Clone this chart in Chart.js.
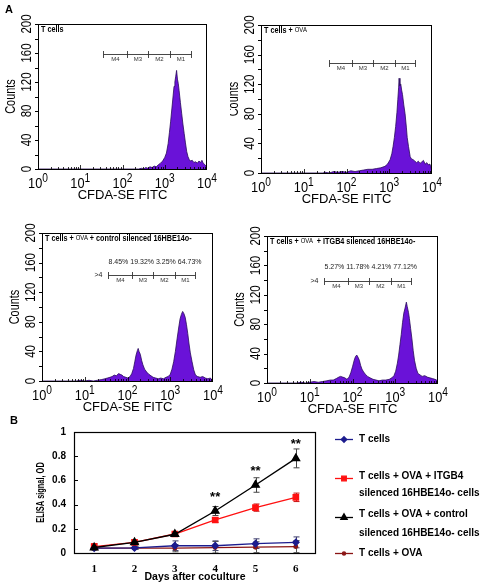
<!DOCTYPE html>
<html>
<head>
<meta charset="utf-8">
<script src="https://cdn.jsdelivr.net/npm/chart.js@4.4.0/dist/chart.umd.min.js"></script>
<style>
html, body { margin: 0; padding: 0; background: #fff; }
#page { position: relative; width: 484px; height: 586px; overflow: hidden; }
canvas { position: absolute; }
.tag { position: absolute; font: bold 11px 'Liberation Sans', Arial, sans-serif; line-height: 1; }
</style>
</head>
<body>
<div id="page">
  <canvas id="hTc" width="230" height="200" style="left:0;top:0"></canvas>
  <canvas id="hOva" width="254" height="210" style="left:230px;top:0"></canvas>
  <canvas id="hCtrl" width="230" height="215" style="left:0;top:200px"></canvas>
  <canvas id="hItg" width="254" height="215" style="left:230px;top:200px"></canvas>
  <canvas id="elisa" width="484" height="171" style="left:0;top:415px"></canvas>
  <div class="tag" style="left:5px;top:4px">A</div>
  <div class="tag" style="left:10px;top:415px">B</div>
</div>
<script>
var SANS = "'Liberation Sans', Arial, sans-serif";
var SERIF = "'Liberation Serif', 'Times New Roman', serif";

// ---- panel A : CFDA-SE histograms (x = log10 of FITC channel) ----
var countTicks = [0, 40, 80, 120, 160, 200];
var decadeExps = ['0', '1', '2', '3', '4'];
var gateNames = ['M4', 'M3', 'M2', 'M1'];

var tcLog = [0, 2.38, 2.45, 2.50, 2.55, 2.60, 2.65, 2.70, 2.75, 2.80, 2.85, 2.90, 2.95, 3.00, 3.04, 3.08, 3.11, 3.14, 3.17, 3.20, 3.22, 3.24, 3.26, 3.28, 3.30, 3.32, 3.34, 3.37, 3.40, 3.43, 3.46, 3.49, 3.52, 3.55, 3.58, 3.61, 3.65, 3.69, 3.73, 3.77, 3.81, 3.85, 3.88, 3.91, 3.95, 3.98, 4.0];
var tcCount = [0, 0, 1, 0, 2, 1, 3, 2, 4, 3, 6, 8, 11, 16, 22, 35, 50, 66, 84, 102, 114, 120, 128, 136, 124, 118, 108, 92, 77, 62, 49, 36, 24, 17, 13, 11, 12, 9, 10, 8, 11, 9, 12, 8, 6, 4, 0];

var ovaLog = [0, 1.45, 1.50, 1.60, 1.70, 1.80, 1.90, 2.00, 2.10, 2.20, 2.30, 2.40, 2.50, 2.60, 2.70, 2.80, 2.90, 2.96, 3.02, 3.06, 3.09, 3.12, 3.15, 3.18, 3.20, 3.22, 3.23, 3.25, 3.27, 3.29, 3.31, 3.34, 3.37, 3.40, 3.42, 3.45, 3.49, 3.52, 3.56, 3.60, 3.64, 3.68, 3.72, 3.76, 3.80, 3.84, 3.88, 3.91, 3.95, 3.98, 4.0];
var ovaCount = [0, 0, 1, 0, 2, 1, 2, 1, 3, 2, 3, 4, 5, 5, 6, 7, 9, 12, 18, 26, 36, 48, 63, 82, 99, 116, 128, 118, 120, 112, 106, 92, 80, 62, 48, 36, 22, 19, 18, 16, 14, 16, 13, 15, 17, 12, 14, 11, 12, 7, 0];

var ctrlLog = [0, 0.80, 0.90, 1.00, 1.10, 1.20, 1.30, 1.40, 1.47, 1.53, 1.59, 1.64, 1.69, 1.74, 1.79, 1.83, 1.87, 1.91, 1.96, 2.01, 2.06, 2.10, 2.14, 2.17, 2.20, 2.23, 2.25, 2.27, 2.30, 2.33, 2.36, 2.40, 2.45, 2.50, 2.55, 2.60, 2.66, 2.72, 2.78, 2.84, 2.90, 2.95, 3.00, 3.04, 3.08, 3.12, 3.16, 3.20, 3.23, 3.26, 3.29, 3.32, 3.35, 3.38, 3.41, 3.44, 3.47, 3.51, 3.55, 3.59, 3.64, 3.70, 3.76, 3.82, 3.88, 3.94, 4.0];
var ctrlCount = [0, 0, 1, 0, 1, 0, 1, 2, 3, 4, 5, 6, 8, 7, 10, 9, 8, 6, 5, 4, 6, 10, 17, 26, 35, 41, 44, 40, 36, 28, 22, 16, 12, 9, 7, 5, 4, 3, 4, 3, 5, 6, 9, 16, 26, 40, 57, 73, 84, 90, 94, 91, 86, 76, 64, 50, 38, 26, 15, 8, 6, 5, 6, 4, 3, 4, 0];

var itgLog = [0, 0.70, 0.80, 0.90, 1.00, 1.10, 1.20, 1.30, 1.40, 1.48, 1.55, 1.62, 1.68, 1.72, 1.77, 1.82, 1.87, 1.92, 1.96, 2.00, 2.04, 2.07, 2.10, 2.13, 2.16, 2.19, 2.22, 2.26, 2.30, 2.35, 2.41, 2.48, 2.55, 2.62, 2.70, 2.78, 2.86, 2.92, 2.97, 3.01, 3.05, 3.08, 3.11, 3.14, 3.17, 3.20, 3.23, 3.26, 3.28, 3.31, 3.33, 3.36, 3.39, 3.42, 3.45, 3.49, 3.53, 3.58, 3.63, 3.69, 3.75, 3.81, 3.87, 3.93, 3.97, 4.0];
var itgCount = [0, 0, 1, 0, 1, 2, 1, 2, 3, 4, 4, 6, 8, 9, 8, 7, 5, 8, 14, 22, 31, 36, 38, 35, 31, 24, 19, 15, 12, 9, 7, 5, 4, 3, 4, 4, 5, 7, 10, 16, 27, 38, 52, 66, 82, 95, 102, 110, 104, 96, 88, 74, 60, 44, 31, 20, 13, 11, 9, 10, 8, 7, 6, 5, 4, 0];

var ctrlPercents = ['8.45%', '19.32%', '3.25%', '64.73%'];
var itgPercents = ['5.27%', '11.78%', '4.21%', '77.12%'];

// ---- panel B : ELISA ----
var days = ['1', '2', '3', '4', '5', '6'];
var tcellsOD = [0.040, 0.042, 0.060, 0.060, 0.077, 0.088];
var tcellsErr = [0.010, 0.010, 0.040, 0.040, 0.040, 0.045];
var itgb4OD = [0.052, 0.088, 0.157, 0.273, 0.375, 0.460];
var itgb4Err = [0.025, 0.010, 0.012, 0.020, 0.030, 0.035];
var controlOD = [0.045, 0.088, 0.155, 0.347, 0.562, 0.782];
var controlErr = [0.020, 0.010, 0.010, 0.037, 0.060, 0.078];
var ovaOD = [0.040, 0.040, 0.040, 0.045, 0.048, 0.053];
var ovaErr = [0.010, 0.010, 0.030, 0.050, 0.045, 0.050];
var starLevels = [null, null, null, 0.48, 0.70, 0.925];
var seriesNames = [
    ['T cells'],
    ['T cells + OVA + ITGB4', 'silenced 16HBE14o- cells'],
    ['T cells + OVA + control', 'silenced 16HBE14o- cells'],
    ['T cells + OVA']
];

function say(ctx, text, x, y, font, o) {
    o = o || {};
    ctx.save();
    ctx.translate(x, y);
    if (o.rot) ctx.rotate(o.rot);
    ctx.scale(o.sx || 1, 1);
    ctx.font = font;
    ctx.fillStyle = o.color || '#000';
    ctx.textAlign = o.align || 'center';
    ctx.textBaseline = o.base || 'middle';
    ctx.fillText(text, 0, 0);
    ctx.restore();
}

function seg(ctx, x1, y1, x2, y2) {
    ctx.beginPath();
    ctx.moveTo(x1, y1);
    ctx.lineTo(x2, y2);
    ctx.stroke();
}

function drawDecade(ctx, x, y, exp) {
    var sq = 0.85;
    ctx.save();
    ctx.font = '15px ' + SANS;
    var w1 = ctx.measureText('10').width;
    ctx.font = '12px ' + SANS;
    var w2 = ctx.measureText(exp).width;
    ctx.translate(x - (w1 + w2) * sq / 2, y);
    ctx.scale(sq, 1);
    ctx.fillStyle = '#000';
    ctx.textAlign = 'left';
    ctx.textBaseline = 'alphabetic';
    ctx.font = '15px ' + SANS;
    ctx.fillText('10', 0, 0);
    ctx.font = '12px ' + SANS;
    ctx.fillText(exp, w1, -6);
    ctx.restore();
}

function drawHead(ctx, parts, x, y) {
    ctx.save();
    ctx.translate(x, y);
    ctx.scale(0.85, 1);
    ctx.fillStyle = '#000';
    ctx.textAlign = 'left';
    ctx.textBaseline = 'middle';
    var cx = 0;
    parts.forEach(function (p) {
        ctx.font = p[1] ? 'bold 8.5px ' + SANS : '7px ' + SANS;
        ctx.fillText(p[0], cx, 0);
        cx += ctx.measureText(p[0]).width;
    });
    ctx.restore();
}

var panels = [
    { id: 'hTc', pad: { left: 38, right: 23, top: 24, bottom: 31 }, xs: tcLog, ys: tcCount,
      head: [['T cells', 1]],
      gate: [1.55, 2.10, 2.61, 3.12, 3.61], gateAt: 158 },
    { id: 'hOva', pad: { left: 31, right: 52, top: 25, bottom: 37 }, xs: ovaLog, ys: ovaCount,
      head: [['T cells + ', 1], ['OVA', 0]],
      gate: [1.59, 2.12, 2.62, 3.13, 3.61], gateAt: 149 },
    { id: 'hCtrl', pad: { left: 42, right: 17, top: 33, bottom: 34 }, xs: ctrlLog, ys: ctrlCount,
      head: [['T cells + ', 1], ['OVA', 0], [' + control silenced 16HBE14o-', 1]],
      gate: [1.54, 2.10, 2.60, 3.11, 3.58], gateAt: 143, pct: ctrlPercents, pctAt: 161 },
    { id: 'hItg', pad: { left: 37, right: 46, top: 36, bottom: 32 }, xs: itgLog, ys: itgCount,
      head: [['T cells + ', 1], ['OVA', 0], ['  + ITGB4 silenced 16HBE14o-', 1]],
      gate: [1.34, 1.90, 2.39, 2.91, 3.38], gateAt: 139, pct: itgPercents, pctAt: 158 }
];

function makeHistogram(p) {
    var points = p.xs.map(function (x, i) { return { x: x, y: p.ys[i] }; });
    var frame = {
        id: 'facsFrame',
        afterDraw: function (chart) {
            var ctx = chart.ctx, a = chart.chartArea;
            var sx = chart.scales.x, sy = chart.scales.y;
            ctx.save();
            ctx.strokeStyle = '#000';
            ctx.lineWidth = 1;
            ctx.strokeRect(Math.round(a.left) + 0.5, Math.round(a.top) + 0.5,
                Math.round(a.right - a.left) - 1, Math.round(a.bottom - a.top));
            // count ticks
            for (var v = 0; v <= 200; v += 20) {
                var ty = Math.round(sy.getPixelForValue(v)) + 0.5;
                seg(ctx, a.left - 3, ty, a.left, ty);
            }
            // log ticks
            ctx.lineWidth = 0.8;
            for (var d = 0; d < 4; d++) {
                for (var m = 1; m < 10; m++) {
                    var tx = Math.round(sx.getPixelForValue(d + Math.log10(m))) + 0.5;
                    seg(ctx, tx, a.bottom, tx, a.bottom - (m === 1 ? 4 : 2));
                }
            }
            countTicks.forEach(function (c) {
                say(ctx, String(c), a.left - 11, sy.getPixelForValue(c), '15px ' + SANS,
                    { rot: -Math.PI / 2, sx: 0.76 });
            });
            decadeExps.forEach(function (e, i) {
                drawDecade(ctx, sx.getPixelForValue(i), a.bottom + 19, e);
            });
            say(ctx, 'CFDA-SE FITC', (a.left + a.right) / 2, a.bottom + 26.5, '13px ' + SANS);
            say(ctx, 'Counts', a.left - 27, (a.top + a.bottom) / 2, '14px ' + SANS,
                { rot: -Math.PI / 2, sx: 0.78 });
            drawHead(ctx, p.head, a.left + 3, a.top + 5.5);

            // marker gates
            var gy = Math.round(sy.getPixelForValue(p.gateAt)) + 0.5;
            var gx = p.gate.map(function (g) { return Math.round(sx.getPixelForValue(g)) + 0.5; });
            ctx.strokeStyle = '#333';
            ctx.lineWidth = 0.9;
            seg(ctx, gx[0], gy, gx[4], gy);
            gx.forEach(function (x) { seg(ctx, x, gy - 3.5, x, gy + 3.5); });
            for (var k = 0; k < 4; k++) {
                say(ctx, gateNames[k], (gx[k] + gx[k + 1]) / 2, gy + 5, '6px ' + SANS, { color: '#333' });
            }
            if (p.pct) {
                say(ctx, p.pct.join(' '), gx[0], sy.getPixelForValue(p.pctAt), '7px ' + SANS,
                    { align: 'left', color: '#222' });
                say(ctx, '>4', gx[0] - 6, gy, '7px ' + SANS, { align: 'right', color: '#222' });
            }
            ctx.restore();
        }
    };
    return new Chart(document.getElementById(p.id), {
        type: 'line',
        data: {
            datasets: [{
                data: points,
                fill: 'origin',
                backgroundColor: '#6a12d8',
                borderColor: '#2a0b5c',
                borderWidth: 0.8,
                pointRadius: 0,
                tension: 0
            }]
        },
        options: {
            responsive: false,
            animation: false,
            events: [],
            layout: { padding: p.pad },
            plugins: { legend: { display: false }, tooltip: { enabled: false } },
            scales: {
                x: { type: 'linear', min: 0, max: 4, display: false },
                y: { min: 0, max: 200, display: false }
            }
        },
        plugins: [frame]
    });
}

panels.forEach(makeHistogram);

// ---- panel B ----
var errorBars = {
    id: 'errorBars',
    beforeDatasetsDraw: function (chart) {
        var ctx = chart.ctx, sy = chart.scales.y;
        ctx.save();
        chart.data.datasets.forEach(function (ds, i) {
            var meta = chart.getDatasetMeta(i);
            ctx.strokeStyle = ds.errColor;
            ctx.lineWidth = 1;
            ds.data.forEach(function (v, j) {
                var x = Math.round(meta.data[j].x) + 0.5;
                var top = sy.getPixelForValue(v + ds.err[j]);
                var bot = sy.getPixelForValue(Math.max(0, v - ds.err[j]));
                seg(ctx, x, top, x, bot);
                seg(ctx, x - 3, top, x + 3, top);
                seg(ctx, x - 3, bot, x + 3, bot);
            });
        });
        ctx.restore();
    }
};

var legendRows = [
    { line: 24, text: [24] },
    { line: 63, text: [61, 78] },
    { line: 102, text: [99, 118] },
    { line: 138, text: [138] }
];

var elisaFrame = {
    id: 'elisaFrame',
    afterDraw: function (chart) {
        var ctx = chart.ctx, a = chart.chartArea;
        var sx = chart.scales.x, sy = chart.scales.y;
        ctx.save();
        ctx.strokeStyle = '#000';
        ctx.lineWidth = 1.2;
        ctx.strokeRect(Math.round(a.left) + 0.5, Math.round(a.top) + 0.5,
            Math.round(a.right - a.left) - 1, Math.round(a.bottom - a.top));
        ctx.lineWidth = 1;
        for (var v = 0.2; v < 1; v += 0.2) {
            var ty = Math.round(sy.getPixelForValue(v)) + 0.5;
            seg(ctx, a.left, ty, a.left + 4, ty);
        }
        say(ctx, 'ELISA signal, OD', 41, (a.top + a.bottom) / 2, 'bold 10px ' + SANS,
            { rot: -Math.PI / 2, sx: 0.74 });
        starLevels.forEach(function (s, i) {
            if (s === null) return;
            say(ctx, '**', sx.getPixelForValue(i), sy.getPixelForValue(s) + 3, 'bold 13px ' + SANS);
        });
        legendRows.forEach(function (row, i) {
            var ds = chart.data.datasets[i];
            ctx.strokeStyle = ds.borderColor;
            ctx.fillStyle = ds.backgroundColor;
            ctx.lineWidth = 1.3;
            seg(ctx, 335, row.line + 0.5, 353, row.line + 0.5);
            Chart.helpers.drawPoint(ctx, {
                pointStyle: ds.pointStyle, radius: ds.pointRadius * 0.85, rotation: 0, borderWidth: 1
            }, 344, row.line + 0.5);
            seriesNames[i].forEach(function (t, k) {
                say(ctx, t, 359, row.text[k], 'bold 10px ' + SANS, { align: 'left' });
            });
        });
        ctx.restore();
    }
};

new Chart(document.getElementById('elisa'), {
    type: 'line',
    data: {
        labels: days,
        datasets: [
            { label: seriesNames[0].join(' '), data: tcellsOD, err: tcellsErr,
              borderColor: '#1c1c8e', backgroundColor: '#1c1c8e', errColor: '#3c3c6c',
              pointStyle: 'rectRot', pointRadius: 3.2, borderWidth: 1.3, order: 2 },
            { label: seriesNames[1].join(' '), data: itgb4OD, err: itgb4Err,
              borderColor: '#ff1010', backgroundColor: '#ff1010', errColor: '#c81010',
              pointStyle: 'rect', pointRadius: 3.8, borderWidth: 1.3, order: 1 },
            { label: seriesNames[2].join(' '), data: controlOD, err: controlErr,
              borderColor: '#000000', backgroundColor: '#000000', errColor: '#444444',
              pointStyle: 'triangle', pointRadius: 4.3, borderWidth: 1.4, order: 0 },
            { label: seriesNames[3].join(' '), data: ovaOD, err: ovaErr,
              borderColor: '#8a1414', backgroundColor: '#8a1414', errColor: '#555555',
              pointStyle: 'circle', pointRadius: 1.8, borderWidth: 1.3, order: 3 }
        ]
    },
    options: {
        responsive: false,
        animation: false,
        events: [],
        layout: { padding: { left: 0, right: 168, top: 17, bottom: 0 } },
        plugins: { legend: { display: false }, tooltip: { enabled: false } },
        scales: {
            x: {
                offset: true,
                grid: { display: false, drawTicks: false },
                border: { display: false },
                ticks: { color: '#000', padding: 10, font: { family: SERIF, weight: 'bold', size: 11 } },
                title: { display: true, text: 'Days after coculture', color: '#000',
                         font: { family: SANS, weight: 'bold', size: 10.5 }, padding: { top: 0, bottom: 3 } },
                afterFit: function (s) { s.height = 33; }
            },
            y: {
                min: 0,
                max: 1,
                grid: { display: false, drawTicks: false },
                border: { display: false },
                ticks: {
                    stepSize: 0.2, color: '#000', padding: 8,
                    font: { family: SANS, weight: 'bold', size: 10 },
                    callback: function (v) { return String(Math.round(v * 10) / 10); }
                },
                afterFit: function (s) { s.width = 74; }
            }
        }
    },
    plugins: [errorBars, elisaFrame]
});
</script>
</body>
</html>
